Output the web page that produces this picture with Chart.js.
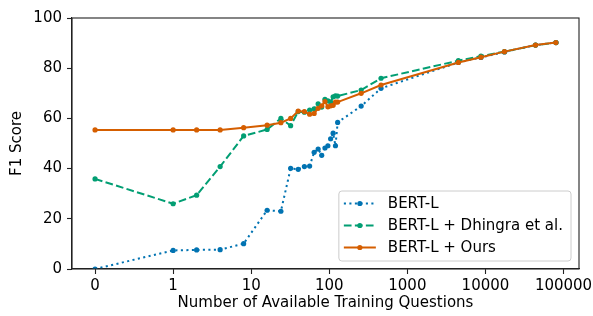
<!DOCTYPE html>
<html>
<head>
<meta charset="utf-8">
<script src="https://cdn.jsdelivr.net/npm/chart.js@4/dist/chart.umd.min.js"></script>
<style>
  html, body { margin: 0; padding: 0; background: #fff; }
  #wrap { width: 593px; height: 316px; }
</style>
</head>
<body>
<div id="wrap"><canvas id="f1Chart"></canvas></div>
<script>
// training set sizes (x) and F1 scores
const trainSizes = [0, 1, 2, 4, 8, 16, 24, 32, 40, 48, 56, 64, 72, 80, 88, 96, 104, 112, 120, 128, 256, 460, 4500, 8760, 17520, 43800, 80000];
const bertL      = [0, 7.4, 7.6, 7.7, 10.1, 23.4, 23.0, 40.1, 39.7, 40.8, 41.0, 46.5, 47.8, 45.3, 48.2, 49.1, 51.9, 54.1, 49.1, 58.4, 64.9, 72.0, 82.3, 84.3, 86.5, 89.2, 90.2];
const bertDhingra = [35.9, 26.0, 29.4, 40.8, 53.0, 55.6, 60.0, 57.1, 62.7, 62.5, 63.3, 63.8, 65.8, 64.5, 67.6, 67.0, 66.5, 68.6, 69.0, 68.9, 71.3, 76.0, 83.0, 84.8, 86.6, 89.2, 90.2];
const bertOurs   = [55.4, 55.4, 55.4, 55.4, 56.3, 57.3, 58.3, 60.0, 62.9, 62.7, 61.7, 62.0, 64.0, 65.0, 66.7, 64.6, 65.0, 65.2, 66.5, 66.5, 70.0, 73.3, 82.3, 84.4, 86.6, 89.2, 90.2];

const seriesNames = ['BERT-L', 'BERT-L + Dhingra et al.', 'BERT-L + Ours'];
const xTicks = [0, 1, 10, 100, 1000, 10000, 100000];
const yTicks = [0, 20, 40, 60, 80, 100];

const FONT = 'DejaVu Sans';
const FS = 15;

// symlog like matplotlib (linthresh = 1): linear on [-1, 1], log10 beyond
function fwd(v) {
  const a = Math.abs(v);
  return a <= 1 ? v : Math.sign(v) * (1 + Math.log10(a));
}
function inv(t) {
  const a = Math.abs(t);
  return a <= 1 ? t : Math.sign(t) * Math.pow(10, a - 1);
}

class SymlogScale extends Chart.Scale {
  determineDataLimits() {
    const { min, max } = this.getMinMax(true);
    const lo = fwd(min), hi = fwd(max);
    const m = (hi - lo) * 0.05; // matplotlib default margins
    this.min = inv(lo - m);
    this.max = inv(hi + m);
  }
  buildTicks() {
    return xTicks.filter(v => v >= this.min && v <= this.max).map(v => ({ value: v }));
  }
  configure() {
    super.configure();
    this._t0 = fwd(this.min);
    this._t1 = fwd(this.max);
  }
  getLabelForValue(v) { return String(v); }
  getPixelForValue(v) {
    return this.getPixelForDecimal((fwd(v) - this._t0) / (this._t1 - this._t0));
  }
  getValueForPixel(p) {
    return inv(this._t0 + this.getDecimalForPixel(p) * (this._t1 - this._t0));
  }
}
SymlogScale.id = 'symlog';
SymlogScale.defaults = {};
Chart.register(SymlogScale);

function toPoints(ys) {
  return trainSizes.map((x, i) => ({ x: x, y: ys[i] }));
}

const colors = ['#0173B2', '#029E73', '#D55E00'];
const dashes = [[2.1, 3.4], [7.7, 3.3], []];

// box around the axes (top and right spines)
const frame = {
  id: 'frame',
  afterDraw(chart) {
    const { ctx, chartArea: a } = chart;
    ctx.save();
    ctx.strokeStyle = '#222';
    ctx.lineWidth = 1.1;
    ctx.strokeRect(a.left, a.top, a.right - a.left, a.bottom - a.top);
    ctx.restore();
  }
};

// matplotlib style legend, lower right inside the axes
const innerLegend = {
  id: 'innerLegend',
  afterDraw(chart) {
    const { ctx, chartArea: a } = chart;
    ctx.save();
    ctx.font = FS + 'px "' + FONT + '"';
    const textW = Math.max(...seriesNames.map(n => ctx.measureText(n).width));
    const rowH = 22, textX = 49, h = 70;
    const w = textX + textW + 8;
    const right = a.right - 8, bottom = a.bottom - 8;
    const left = right - w, top = bottom - h;

    ctx.beginPath();
    ctx.roundRect(left, top, w, h, 3);
    ctx.fillStyle = 'rgba(255,255,255,0.8)';
    ctx.fill();
    ctx.strokeStyle = '#cccccc';
    ctx.lineWidth = 1;
    ctx.stroke();

    chart.data.datasets.forEach((ds, i) => {
      const y = top + 12.5 + i * rowH;
      ctx.beginPath();
      ctx.setLineDash(ds.borderDash);
      ctx.strokeStyle = ds.borderColor;
      ctx.lineWidth = ds.borderWidth;
      ctx.moveTo(left + 5, y);
      ctx.lineTo(left + 37, y);
      ctx.stroke();
      ctx.setLineDash([]);
      ctx.beginPath();
      ctx.arc(left + 21, y, ds.pointRadius, 0, Math.PI * 2);
      ctx.fillStyle = ds.borderColor;
      ctx.fill();
      ctx.fillStyle = '#000';
      ctx.textBaseline = 'middle';
      ctx.fillText(ds.label, left + textX, y + 1);
    });
    ctx.restore();
  }
};

const ctx = document.getElementById('f1Chart').getContext('2d');
const f1Chart = new Chart(ctx, {
  type: 'line',
  data: {
    datasets: [bertL, bertDhingra, bertOurs].map((ys, i) => ({
      label: seriesNames[i],
      data: toPoints(ys),
      borderColor: colors[i],
      backgroundColor: colors[i],
      pointBackgroundColor: colors[i],
      pointBorderWidth: 0,
      pointRadius: 2.6,
      borderWidth: 2,
      borderDash: dashes[i],
      borderCapStyle: 'butt',
      tension: 0,
      order: 3 - i
    }))
  },
  options: {
    responsive: true,
    maintainAspectRatio: false,
    animation: false,
    layout: { padding: { left: 0, top: 18, right: 14, bottom: 0 } },
    plugins: {
      legend: { display: false },
      tooltip: { enabled: false }
    },
    scales: {
      x: {
        type: 'symlog',
        position: 'bottom',
        afterFit: s => { s.height = 47; s.paddingLeft = 0; s.paddingRight = 0; },
        grid: { drawOnChartArea: false, tickLength: 5, tickColor: '#222', tickWidth: 1.1 },
        border: { color: '#222', width: 1.1 },
        ticks: {
          autoSkip: false, maxRotation: 0, padding: 3,
          color: '#000', font: { family: FONT, size: FS }
        },
        title: {
          display: true, text: 'Number of Available Training Questions',
          color: '#000', font: { family: FONT, size: FS }, padding: { top: 0, bottom: 4 }
        }
      },
      y: {
        min: 0, max: 100,
        afterBuildTicks: s => { s.ticks = yTicks.map(v => ({ value: v })); },
        afterFit: s => { s.width = 72; },
        grid: { drawOnChartArea: false, tickLength: 5, tickColor: '#222', tickWidth: 1.1 },
        border: { color: '#222', width: 1.1 },
        ticks: { padding: 5, color: '#000', font: { family: FONT, size: FS } },
        title: {
          display: true, text: 'F1 Score',
          color: '#000', font: { family: FONT, size: FS }, padding: { top: 8, bottom: 0 }
        }
      }
    }
  },
  plugins: [frame, innerLegend]
});
</script>
</body>
</html>
